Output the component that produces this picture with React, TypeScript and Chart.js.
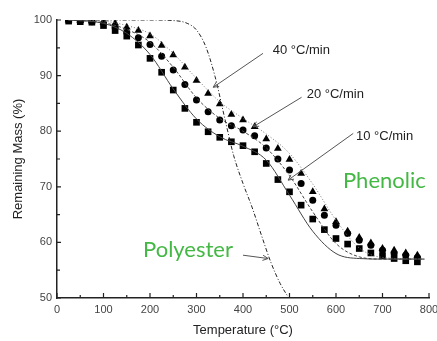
import React, { useEffect, useRef } from "react";
import { Chart, registerables } from "chart.js";
Chart.register(...registerables);

// Measured TGA points (every 25 °C)
const markerTemps = [25, 50, 75, 100, 125, 150, 175, 200, 225, 250, 275, 300, 325, 350, 375, 400, 425, 450, 475, 500, 525, 550, 575, 600, 625, 650, 675, 700, 725, 750, 775];
const mass10 = [99.8, 99.7, 99.6, 99.0, 98.1, 97.1, 95.5, 93.1, 90.6, 87.4, 84.1, 81.6, 79.9, 78.9, 78.1, 77.4, 76.3, 74.2, 71.3, 69.1, 66.7, 64.2, 62.3, 60.7, 59.7, 58.9, 58.1, 57.6, 57.1, 56.7, 56.5];
const mass20 = [99.9, 99.8, 99.7, 99.4, 98.6, 97.8, 96.8, 95.6, 93.5, 91.0, 88.4, 85.6, 83.5, 82.0, 81.0, 80.2, 79.2, 77.0, 75.0, 73.0, 70.6, 67.6, 64.9, 63.1, 61.6, 60.4, 59.5, 58.6, 58.0, 57.7, 57.3];
const mass40 = [100, 99.9, 99.8, 99.6, 99.4, 98.7, 98.1, 97.1, 95.4, 93.7, 91.5, 89.1, 86.8, 84.9, 83.0, 82.0, 80.8, 78.6, 76.9, 74.9, 72.4, 69.1, 66.0, 63.7, 62.0, 60.9, 59.9, 58.9, 58.6, 58.1, 57.7];

// Model fit curves
const fitTemps = [25, 100, 150, 200, 250, 300, 350, 400, 450, 500, 550, 600, 650, 700, 790];
const fit10 = [100, 99.4, 97.6, 93.8, 87.6, 82.2, 79.0, 77.3, 74.8, 68.5, 62.0, 58.0, 57.1, 57.0, 57.0];
const fit20 = [100, 99.5, 98.3, 96.0, 91.5, 86.0, 82.3, 80.0, 77.0, 72.0, 65.5, 59.8, 57.4, 57.0, 57.0];
const fit40 = [100, 99.8, 99.0, 97.5, 94.0, 89.5, 85.3, 82.3, 79.5, 76.0, 70.5, 64.0, 59.0, 57.3, 57.0];

// Polyester curve
const polyTemps = [25, 200, 250, 280, 300, 320, 340, 360, 380, 400, 420, 440, 460, 480, 500];
const polyMass = [100, 100, 99.9, 99.4, 98.2, 95.2, 89.8, 82.6, 75.6, 70.6, 66.2, 61.2, 56.4, 52.6, 49.8];

// Axis ticks
const xMajorTicks = [0, 100, 200, 300, 400, 500, 600, 700, 800];
const xMinorTicks = [50, 150, 250, 350, 450, 550, 650, 750];
const yMajorTicks = [50, 60, 70, 80, 90, 100];
const yMinorTicks = [55, 65, 75, 85, 95];

// Rate labels with arrows (data coordinates)
const rateLabels = ["40 °C/min", "20 °C/min", "10 °C/min"];
const rateLabelPos = [[464, 94.6], [537, 86.7], [643, 79.1]];
const rateArrowFrom = [[443, 94.0], [526, 86.1], [637, 79.6]];
const rateArrowTo = [[336, 87.9], [422, 80.8], [497, 71.2]];
const polyArrowFrom = [400, 57.7];
const polyArrowTo = [454, 57.1];
const materialLabels = ["Phenolic", "Polyester"];
const materialLabelPos = [[615, 71.0], [185, 58.7]];

const FONT = "'Liberation Sans', Arial, sans-serif";

const toXY = (xs: number[], ys: number[]) => xs.map((x, i) => ({ x, y: ys[i] }));

const decorPlugin = {
  id: "decor",
  afterDraw(chart: any) {
    const { ctx, scales } = chart;
    const xs = scales.x;
    const ys = scales.y;
    const area = chart.chartArea;
    ctx.save();
    ctx.strokeStyle = "#222";
    ctx.lineWidth = 1.2;
    ctx.beginPath();
    xMajorTicks.forEach((v) => {
      const p = xs.getPixelForValue(v);
      ctx.moveTo(p, area.bottom);
      ctx.lineTo(p, area.bottom - 5);
    });
    xMinorTicks.forEach((v) => {
      const p = xs.getPixelForValue(v);
      ctx.moveTo(p, area.bottom);
      ctx.lineTo(p, area.bottom - 3);
    });
    yMajorTicks.forEach((v) => {
      const p = ys.getPixelForValue(v);
      ctx.moveTo(area.left - 1, p);
      ctx.lineTo(area.left + 4, p);
    });
    yMinorTicks.forEach((v) => {
      const p = ys.getPixelForValue(v);
      ctx.moveTo(area.left, p);
      ctx.lineTo(area.left + 3, p);
    });
    ctx.stroke();

    const arrow = (from: number[], to: number[]) => {
      const x1 = xs.getPixelForValue(from[0]);
      const y1 = ys.getPixelForValue(from[1]);
      const x2 = xs.getPixelForValue(to[0]);
      const y2 = ys.getPixelForValue(to[1]);
      ctx.beginPath();
      ctx.moveTo(x1, y1);
      ctx.lineTo(x2, y2);
      const ang = Math.atan2(y2 - y1, x2 - x1);
      const L = 6;
      ctx.moveTo(x2 - L * Math.cos(ang - 0.45), y2 - L * Math.sin(ang - 0.45));
      ctx.lineTo(x2, y2);
      ctx.lineTo(x2 - L * Math.cos(ang + 0.45), y2 - L * Math.sin(ang + 0.45));
      ctx.stroke();
    };
    ctx.strokeStyle = "#555";
    ctx.lineWidth = 1;
    rateArrowFrom.forEach((f, i) => arrow(f, rateArrowTo[i]));
    arrow(polyArrowFrom, polyArrowTo);

    ctx.fillStyle = "#222";
    ctx.font = `13px ${FONT}`;
    ctx.textBaseline = "middle";
    ctx.textAlign = "left";
    rateLabels.forEach((t, i) => {
      ctx.fillText(t, xs.getPixelForValue(rateLabelPos[i][0]), ys.getPixelForValue(rateLabelPos[i][1]));
    });

    ctx.fillStyle = "#44b844";
    ctx.font = `22px Lato, 'Open Sans', sans-serif`;
    materialLabels.forEach((t, i) => {
      ctx.fillText(t, xs.getPixelForValue(materialLabelPos[i][0]), ys.getPixelForValue(materialLabelPos[i][1]));
    });
    ctx.restore();
  },
};

export default function App() {
  const ref = useRef<HTMLCanvasElement>(null);
  useEffect(() => {
    if (!ref.current) return;
    const lineBase = {
      showLine: true,
      pointRadius: 0,
      borderWidth: 1,
      fill: false,
      cubicInterpolationMode: "monotone" as const,
    };
    const chart = new Chart(ref.current, {
      type: "scatter",
      data: {
        datasets: [
          { ...lineBase, label: "fit10", data: toXY(fitTemps, fit10), borderColor: "#444" },
          { ...lineBase, label: "fit20", data: toXY(fitTemps, fit20), borderColor: "#444", borderDash: [3, 2] },
          { ...lineBase, label: "fit40", data: toXY(fitTemps, fit40), borderColor: "#777", borderDash: [1, 2] },
          { ...lineBase, label: "Polyester", data: toXY(polyTemps, polyMass), borderColor: "#222", borderDash: [4, 2, 1, 2] },
          { label: "10 °C/min", data: toXY(markerTemps, mass10), pointStyle: "rect", pointRadius: 4.7, backgroundColor: "#000", borderWidth: 0 },
          { label: "20 °C/min", data: toXY(markerTemps, mass20), pointStyle: "circle", pointRadius: 3.5, backgroundColor: "#000", borderWidth: 0 },
          { label: "40 °C/min", data: toXY(markerTemps, mass40), pointStyle: "triangle", pointRadius: 4.5, backgroundColor: "#000", borderWidth: 0 },
        ],
      },
      options: {
        animation: false,
        responsive: false,
        devicePixelRatio: 1,
        layout: { padding: { left: 0, right: 8, top: 20, bottom: 0 } },
        plugins: { legend: { display: false }, tooltip: { enabled: false } },
        scales: {
          x: {
            type: "linear",
            min: 0,
            max: 800,
            afterBuildTicks: (s: any) => { s.ticks = xMajorTicks.map((v) => ({ value: v })); },
            afterFit: (s: any) => { s.height = 43; s.paddingRight = 0; s.paddingLeft = 0; },
            grid: { display: false, drawTicks: false },
            border: { display: true, color: "#222", width: 1.5 },
            ticks: { color: "#444", font: { family: FONT, size: 11 }, padding: 5, maxRotation: 0, autoSkip: false },
            title: { display: true, text: "Temperature (°C)", color: "#222", font: { family: FONT, size: 13 }, padding: { top: 0, bottom: 3 } },
          },
          y: {
            type: "linear",
            min: 50,
            max: 100,
            afterBuildTicks: (s: any) => { s.ticks = yMajorTicks.map((v) => ({ value: v })); },
            afterFit: (s: any) => { s.width = 57; },
            grid: { display: false, drawTicks: false },
            border: { display: true, color: "#222", width: 1.5 },
            ticks: { color: "#444", font: { family: FONT, size: 11 }, padding: 5 },
            title: { display: true, text: "Remaining Mass (%)", color: "#222", font: { family: FONT, size: 13 }, padding: { top: 11, bottom: 0 } },
          },
        },
      },
      plugins: [decorPlugin],
    });
    return () => chart.destroy();
  }, []);
  return (
    <div style={{ position: "fixed", left: 0, top: 0, width: 437, height: 341, background: "#fff" }}>
      <canvas ref={ref} width={437} height={341} style={{ width: 437, height: 341, display: "block" }} />
    </div>
  );
}
